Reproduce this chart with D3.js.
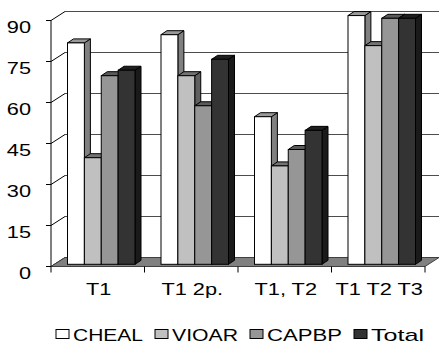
<!DOCTYPE html>
<html>
<head>
<meta charset="utf-8">
<script src="https://cdn.jsdelivr.net/npm/d3@7"></script>
<style>
  body { margin: 0; background: #fff; }
</style>
</head>
<body>
<div class="chart"></div>
<script>
// data
const categories = ["T1", "T1 2p.", "T1, T2", "T1 T2 T3"];
const series = ["CHEAL", "VIOAR", "CAPBP", "Total"];
const cheal = [81, 84, 54, 91];
const vioar = [39, 69, 36, 80];
const capbp = [69, 58, 42, 90];
const total = [71, 75, 49, 90];
const y_ticks = [0, 15, 30, 45, 60, 75, 90];

const values = [cheal, vioar, capbp, total];
const colors = ["#ffffff", "#c0c0c0", "#969696", "#333333"];

const dims = { width: 440, height: 353 };
const plot = { left: 51, right: 425, top: 20.5, bottom: 266.5 };
const wall = { dx: 14, dy: -9 };      // depth of the walls / floor
const bar_pos = { dx: 3.5, dy: -2.2 }; // where the bar fronts sit in depth
const bar_depth = { dx: 6, dy: -4 };
const stretch = 1.28;                 // text in the picture is wide
const legend_len = [70, 66, 75, 53];  // stretched legend word widths
const font = "'Liberation Sans', Arial, sans-serif";

const svg = d3.select(".chart")
  .append("svg")
  .attr("width", dims.width)
  .attr("height", dims.height);

const y = d3.scaleLinear().domain([0, 90]).range([plot.bottom, plot.top]);
const x = d3.scaleBand().domain(categories).range([plot.left, plot.right]);
const xs = d3.scaleBand().domain(series).range([13, 80.5]);

const shade = (c, k) => {
  const r = d3.rgb(c);
  return d3.rgb(r.r * k, r.g * k, r.b * k).formatHex();
};

// back wall gridlines
svg.selectAll(".grid").data(y_ticks.filter(d => d > 0)).enter().append("line")
  .attr("x1", plot.left + wall.dx).attr("x2", plot.right + wall.dx)
  .attr("y1", d => y(d) + wall.dy).attr("y2", d => y(d) + wall.dy)
  .attr("stroke", "#4d4d4d").attr("stroke-width", 1);

// side wall diagonals
svg.selectAll(".diag").data(y_ticks).enter().append("line")
  .attr("x1", plot.left).attr("x2", plot.left + wall.dx)
  .attr("y1", d => y(d)).attr("y2", d => y(d) + wall.dy)
  .attr("stroke", "#000").attr("stroke-width", 1);

// floor
svg.append("polygon")
  .attr("points", [
    [plot.left, y(0)], [plot.right, y(0)],
    [plot.right + wall.dx, y(0) + wall.dy], [plot.left + wall.dx, y(0) + wall.dy]
  ].join(" "))
  .attr("fill", "#808080").attr("stroke", "#404040").attr("stroke-width", 1);

// value axis
svg.append("line")
  .attr("x1", plot.left).attr("x2", plot.left)
  .attr("y1", y(90)).attr("y2", y(0))
  .attr("stroke", "#000");
svg.selectAll(".ytick").data(y_ticks).enter().append("line")
  .attr("x1", plot.left - 5).attr("x2", plot.left)
  .attr("y1", d => y(d)).attr("y2", d => y(d))
  .attr("stroke", "#000");
svg.selectAll(".ylab").data(y_ticks).enter().append("g")
  .attr("transform", d => `translate(${plot.left - 20},${y(d) + 12.5}) scale(${stretch},1)`)
  .append("text")
  .attr("text-anchor", "end")
  .attr("font-family", font).attr("font-size", 17)
  .text(d => d);

// category axis ticks
const bounds = categories.map(c => x(c)).concat([plot.right]);
svg.selectAll(".xtick").data(bounds).enter().append("line")
  .attr("x1", d => d).attr("x2", d => d)
  .attr("y1", y(0)).attr("y2", y(0) + 6)
  .attr("stroke", "#000");
svg.selectAll(".xlab").data(categories).enter().append("g")
  .attr("transform", d => `translate(${x(d) + x.bandwidth() / 2 + 1},295) scale(${stretch},1)`)
  .append("text")
  .attr("text-anchor", "middle")
  .attr("font-family", font).attr("font-size", 17)
  .text(d => d);

// bars, drawn left to right so each front covers the previous side
const bars = [];
categories.forEach((c, i) => {
  series.forEach((s, j) => {
    bars.push({ cat: c, s: s, v: values[j][i], color: colors[j] });
  });
});
const w = xs.bandwidth();
const bar = svg.selectAll(".bar").data(bars).enter().append("g").attr("class", "bar");
bar.each(function (d) {
  const g = d3.select(this);
  const x0 = x(d.cat) + xs(d.s) + bar_pos.dx;
  const y0 = y(d.v) + bar_pos.dy;
  const yb = y(0) + bar_pos.dy;
  g.append("polygon")
    .attr("points", [[x0 + w, y0], [x0 + w + bar_depth.dx, y0 + bar_depth.dy],
      [x0 + w + bar_depth.dx, yb + bar_depth.dy], [x0 + w, yb]].join(" "))
    .attr("fill", shade(d.color, 0.5)).attr("stroke", "#000").attr("stroke-width", 1);
  g.append("polygon")
    .attr("points", [[x0, y0], [x0 + bar_depth.dx, y0 + bar_depth.dy],
      [x0 + w + bar_depth.dx, y0 + bar_depth.dy], [x0 + w, y0]].join(" "))
    .attr("fill", shade(d.color, 0.6)).attr("stroke", "#000").attr("stroke-width", 1);
  g.append("rect")
    .attr("x", x0).attr("y", y0).attr("width", w).attr("height", yb - y0)
    .attr("fill", d.color).attr("stroke", "#000").attr("stroke-width", 1);
});

// legend
let cursor = 56;
series.forEach((s, j) => {
  svg.append("rect")
    .attr("x", cursor).attr("y", 329.5).attr("width", 13).attr("height", 9)
    .attr("fill", colors[j]).attr("stroke", "#000");
  svg.append("text")
    .attr("x", cursor + 17).attr("y", 340.5)
    .attr("font-family", font).attr("font-size", 17)
    .attr("textLength", legend_len[j]).attr("lengthAdjust", "spacingAndGlyphs")
    .text(s);
  cursor += 17 + legend_len[j] + 12;
});
</script>
</body>
</html>
